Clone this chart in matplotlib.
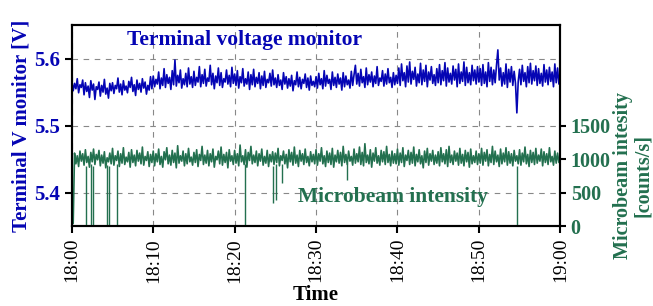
import matplotlib
matplotlib.use("Agg")
import matplotlib.pyplot as plt
import matplotlib.dates as mdates
import numpy as np

# terminal voltage [mV above 5.5 V], one sample every 10 s from 18:00 to 19:00
volt_mv = [
    66, 52, 63, 55, 70, 49, 61, 57, 68, 46, 64, 51, 59, 42, 67, 53, 62, 39, 58, 54, 65, 44, 60, 50, 69, 47, 56, 41, 63, 52,
    64, 48, 60, 55, 71, 50, 62, 46, 67, 53, 59, 49, 66, 57, 72, 51, 61, 45, 68, 54, 63, 50, 70, 56, 65, 47, 60, 53, 73, 55,
    74, 58, 69, 62, 80, 55, 71, 60, 85, 57, 76, 63, 72, 54, 82, 61, 98, 59, 75, 64, 83, 56, 70, 61, 78, 58, 86, 62, 73, 57,
    81, 60, 72, 65, 88, 58, 76, 63, 84, 59, 71, 66, 90, 61, 78, 55, 74, 64, 86, 60, 79, 57, 70, 65, 83, 62, 75, 58, 87, 63,
    77, 60, 82, 56, 73, 64, 85, 59, 70, 62, 80, 54, 76, 61, 84, 58, 72, 63, 79, 55, 74, 60, 81, 57, 69, 64, 78, 59, 83, 61,
    71, 57, 76, 60, 68, 54, 79, 62, 73, 56, 70, 59, 75, 52, 67, 61, 80, 58, 72, 55, 69, 63, 77, 57, 71, 53, 74, 60, 66, 58,
    73, 56, 78, 61, 70, 55, 82, 59, 75, 63, 69, 54, 80, 60, 72, 57, 77, 62, 71, 53, 79, 58, 74, 61, 68, 56, 81, 60, 76, 90,
    62, 78, 59, 84, 64, 73, 57, 86, 61, 76, 65, 80, 58, 74, 63, 88, 60, 71, 66, 82, 59, 77, 62, 85, 64, 72, 57, 79, 61, 75,
    63, 86, 60, 92, 67, 79, 58, 89, 65, 95, 62, 81, 69, 87, 59, 77, 64, 93, 61, 83, 66, 90, 58, 80, 68, 88, 63, 76, 60, 85,
    64, 91, 61, 82, 67, 94, 59, 86, 65, 78, 62, 89, 68, 84, 58, 92, 63, 80, 66, 95, 60, 87, 64, 79, 61, 90, 67, 83, 62, 88,
    65, 85, 60, 91, 63, 80, 58, 94, 66, 87, 61, 83, 64, 90, 113, 68, 86, 59, 79, 62, 92, 57, 84, 65, 88, 60, 81, 63, 19, 66,
    84, 61, 90, 66, 79, 58, 88, 64, 93, 62, 82, 67, 89, 60, 85, 63, 78, 59, 91, 65, 83, 61, 87, 66, 80, 58, 92, 64, 86, 62,
    74,
]

# microbeam intensity [counts/s], same sampling
beam = [
    30, 40, 1090, 930, 1050, 890, 1120, 970, 1080, 910, 1140, 950, 1040, 880, 1100, 960, 1150, 920, 1070, 990, 1130, 900, 1060, 940, 1110, 870, 1020, 960, 1090, 930,
    1160, 910, 1050, 980, 1120, 890, 1080, 940, 1170, 920, 1030, 960, 1100, 880, 1140, 950, 1060, 900, 1130, 970, 1090, 930, 1180, 910, 1040, 980, 1110, 890, 1070, 950,
    1120, 900, 1080, 960, 1150, 920, 1040, 880, 1110, 990, 1170, 930, 1060, 910, 1130, 950, 1090, 870, 1200, 940, 1050, 970, 1120, 900, 1080, 930, 1160, 960, 1030, 910,
    1100, 950, 1140, 890, 1070, 980, 1190, 920, 1060, 940, 1130, 900, 1080, 960, 1150, 880, 1040, 990, 1120, 930, 1180, 910, 1070, 950, 1100, 870, 1140, 970, 1050, 920,
    1130, 940, 1080, 900, 1210, 960, 1050, 920, 1140, 880, 1100, 980, 1190, 930, 1060, 950, 1120, 900, 1080, 970, 1150, 910, 1040, 940, 1130, 890, 1070, 960, 1110, 920,
    1090, 950, 1160, 900, 1050, 980, 1120, 930, 1070, 870, 1140, 960, 1100, 910, 1180, 940, 1060, 890, 1130, 970, 1080, 920, 1150, 950, 1040, 900, 1110, 960, 1070, 930,
    1140, 910, 1080, 970, 1170, 930, 1050, 890, 1120, 950, 1090, 920, 1160, 880, 1060, 960, 1130, 940, 1100, 900, 1190, 950, 1070, 920, 1120, 970, 1040, 910, 1150, 940,
    1080, 960, 1180, 920, 1100, 900, 1230, 950, 1060, 930, 1140, 880, 1090, 970, 1170, 940, 1050, 910, 1130, 960, 1110, 920, 1190, 950, 1070, 900, 1120, 940, 1080, 930,
    1150, 910, 1090, 950, 1170, 890, 1060, 980, 1130, 920, 1100, 940, 1180, 900, 1070, 960, 1140, 930, 1050, 870, 1120, 950, 1160, 910, 1080, 970, 1130, 920, 1060, 940,
    1110, 900, 1170, 960, 1080, 930, 1140, 890, 1190, 950, 1060, 920, 1120, 970, 1090, 910, 1160, 940, 1070, 900, 1130, 960, 1100, 880, 1150, 930, 1050, 950, 1120, 920,
    1080, 940, 1160, 910, 1100, 970, 1140, 900, 1070, 950, 1190, 920, 1120, 960, 1060, 890, 1150, 930, 1090, 960, 1170, 910, 1110, 940, 1080, 900, 1130, 970, 1050, 930,
    1140, 910, 1090, 960, 1180, 930, 1070, 890, 1130, 950, 1100, 920, 1160, 940, 1060, 970, 1150, 900, 1110, 950, 1080, 920, 1170, 960, 1040, 910, 1120, 940, 1090, 950,
    1030,
]

# short drops of the beam: minutes after 18:00 and lowest value
dip_min = [1.8, 2.3, 2.6, 4.3, 4.55, 5.5, 21.3, 24.7, 25.1, 25.8, 33.8, 54.7]
dip_low = [0, 0, 0, 0, 0, 0, 0, 340, 390, 640, 690, 0]
dip_top = [900, 920, 900, 910, 890, 920, 930, 900, 920, 930, 940, 900]

blue = '#0505b4'
green = '#23704f'

t0 = np.datetime64('2000-01-01T18:00:00')
t = t0 + np.arange(len(volt_mv)) * np.timedelta64(10, 's')
volt = 5.5 + np.array(volt_mv) / 1000.
t_dip = t0 + (np.array(dip_min) * 60).astype('timedelta64[s]')

plt.rcParams['font.family'] = 'Liberation Serif'

fig = plt.figure(figsize=(6.53, 3.06), dpi=100)
ax = fig.add_axes([0.110, 0.261, 0.748, 0.657])
ax2 = ax.twinx()

ax.plot(t, volt, color=blue, lw=1.2)
ax2.plot(t, beam, color=green, lw=1.2)
ax2.vlines(t_dip, dip_low, dip_top, color=green, lw=1.0)

ax.set_xlim(t0, t0 + np.timedelta64(60, 'm'))
ax.set_ylim(5.35, 5.65)
ax.set_yticks([5.4, 5.5, 5.6])
ax2.set_ylim(0, 3000)
ax2.set_yticks([0, 500, 1000, 1500])

ax.xaxis.set_major_locator(mdates.MinuteLocator(byminute=range(0, 60, 10)))
ax.xaxis.set_major_formatter(mdates.DateFormatter('%H:%M'))
for lab in ax.get_xticklabels():
    lab.set_rotation(90)
ax.tick_params(axis='x', labelsize=14, direction='out', length=5, width=1.5)
ax.tick_params(axis='y', labelsize=15, labelcolor=blue, direction='out', length=5, width=1.5)
ax2.tick_params(axis='y', labelsize=14.5, labelcolor=green, direction='out', length=4, width=1.5)
for lab in ax.get_yticklabels():
    lab.set_fontweight('bold')
for lab in ax2.get_yticklabels():
    lab.set_fontweight('bold')

ax.grid(True, color='#888888', ls=(0, (5, 5)), lw=0.8)
for sp in ax.spines.values():
    sp.set_linewidth(1.5)
for sp in ax2.spines.values():
    sp.set_linewidth(1.5)

ax.set_xlabel('Time', fontsize=15, fontweight='bold', labelpad=2)
ax.set_ylabel('Terminal V monitor [V]', fontsize=15, fontweight='bold', color=blue, labelpad=2)
ax2.set_ylabel('Microbeam intesity\n[counts/s]', fontsize=14.5, fontweight='bold',
               color=green, linespacing=1.0)
ax2.yaxis.set_label_coords(1.108, 0.25)

ax.text(0.113, 0.925, 'Terminal voltage monitor', transform=ax.transAxes,
        fontsize=15.5, fontweight='bold', color=blue, va='center')
ax.text(0.463, 0.144, 'Microbeam intensity', transform=ax.transAxes,
        fontsize=15.5, fontweight='bold', color=green, va='center')

plt.savefig('out.png', dpi=100)
